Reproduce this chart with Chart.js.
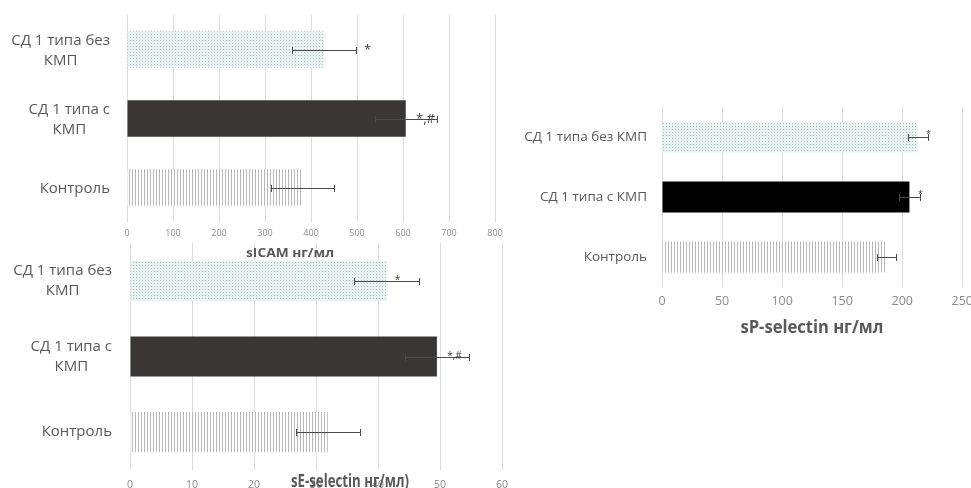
<!DOCTYPE html>
<html><head><meta charset="utf-8">
<script src="https://cdn.jsdelivr.net/npm/chart.js@4.4.1/dist/chart.umd.min.js"></script>
<style>
html,body{margin:0;padding:0;background:#fff;}
body{width:971px;height:488px;position:relative;overflow:hidden;}
canvas{position:absolute;}
</style>
</head><body>
<canvas id="c2" width="520" height="248" style="left:0;top:240px"></canvas>
<canvas id="c1" width="510" height="262" style="left:0;top:0"></canvas>
<canvas id="c3" width="480" height="250" style="left:500px;top:95px"></canvas>
<script>
// ---------- DATA ----------
const categoriesWrapped = [['СД 1 типа без','КМП'], ['СД 1 типа с','КМП'], 'Контроль'];
const categoriesFlat = ['СД 1 типа без КМП', 'СД 1 типа с КМП', 'Контроль'];

const sicamValues = [428, 606, 382];
const sicamErrors = [70, 67, 68];
const sicamMarks = ['*', '*,#', ''];
const sicamTicks = {min: 0, max: 800, step: 100};
const sicamTitle = 'sICAM нг/мл';

const seValues = [41.4, 49.5, 31.9];
const seErrors = [5.2, 5.1, 5.2];
const seMarks = ['*', '*,#', ''];
const seTicks = {min: 0, max: 60, step: 10};
const seTitle = 'sE-selectin нг/мл)';

const spValues = [213, 206, 187];
const spErrors = [8.5, 8.5, 8];
const spMarks = ['*', '*', ''];
const spTicks = {min: 0, max: 250, step: 50};
const spTitle = 'sP-selectin нг/мл';

// ---------- PATTERNS ----------
function dotPattern() {
  const c = document.createElement('canvas'); c.width = 3; c.height = 3;
  const g = c.getContext('2d');
  g.fillStyle = '#e9f3f3'; g.fillRect(0, 0, 3, 3);
  g.fillStyle = '#a4c0c0'; g.fillRect(1, 1, 1, 1);
  return g.createPattern(c, 'repeat');
}
function stripePattern() {
  const c = document.createElement('canvas'); c.width = 3; c.height = 3;
  const g = c.getContext('2d');
  g.fillStyle = '#ffffff'; g.fillRect(0, 0, 3, 3);
  g.fillStyle = '#b8b8b8'; g.fillRect(0, 0, 1, 3);
  return g.createPattern(c, 'repeat');
}

const LABEL_COLOR = '#595959';
const TICK_COLOR = '#8a8a8a';
const GRID_COLOR = '#dcdcdc';

// ---------- PLUGIN: labels, error bars, marks, title ----------
const extrasPlugin = {
  id: 'extras',
  afterDatasetsDraw(chart, args, o) {
    const ctx = chart.ctx;
    const xs = chart.scales.x;
    const meta = chart.getDatasetMeta(0);
    const ds = chart.data.datasets[0];
    ctx.save();
    // category labels
    ctx.fillStyle = LABEL_COLOR;
    ctx.font = o.labelFont;
    ctx.textBaseline = 'middle';
    const rightX = chart.chartArea.left - o.labelGap;
    chart.data.labels.forEach((lab, i) => {
      const lines = Array.isArray(lab) ? lab : [lab];
      const w = Math.max(...lines.map(l => ctx.measureText(l).width));
      const cx = rightX - w / 2;
      const y0 = meta.data[i].y - (lines.length - 1) * o.lineHeight / 2 + o.labelDy;
      ctx.textAlign = 'center';
      lines.forEach((l, k) => ctx.fillText(l, cx, y0 + k * o.lineHeight));
    });
    // error bars
    ctx.strokeStyle = '#4a4a4a';
    ctx.lineWidth = 1;
    meta.data.forEach((bar, i) => {
      const v = ds.data[i], e = ds.errors[i];
      const x0 = Math.round(xs.getPixelForValue(v - e)) + 0.5;
      const x1 = Math.round(xs.getPixelForValue(v + e)) + 0.5;
      const y = Math.round(bar.y) + 0.5;
      ctx.beginPath();
      ctx.moveTo(x0, y); ctx.lineTo(x1, y);
      ctx.moveTo(x0, y - o.cap); ctx.lineTo(x0, y + o.cap);
      ctx.moveTo(x1, y - o.cap); ctx.lineTo(x1, y + o.cap);
      ctx.stroke();
      const m = ds.marks[i];
      if (m) {
        ctx.fillStyle = '#404040';
        ctx.font = o.markFont;
        ctx.textAlign = 'center';
        ctx.fillText(m, x1 + o.markDx[i], y + o.markDy);
      }
    });
    // axis title
    ctx.font = o.titleFont;
    ctx.fillStyle = LABEL_COLOR;
    ctx.textAlign = 'center';
    ctx.textBaseline = 'middle';
    const tw = ctx.measureText(o.title).width;
    const sx = o.titleWidth / tw;
    ctx.translate(o.titleX, o.titleY);
    ctx.scale(sx, 1);
    ctx.fillText(o.title, 0, 0);
    ctx.restore();
  }
};

function makeChart(id, cfg) {
  const ctx = document.getElementById(id).getContext('2d');
  return new Chart(ctx, {
    type: 'bar',
    data: {
      labels: cfg.labels,
      datasets: [{
        data: cfg.values,
        errors: cfg.errors,
        marks: cfg.marks,
        backgroundColor: [dotPattern(), cfg.dark, stripePattern()],
        borderWidth: 0,
        barPercentage: cfg.barPct,
        categoryPercentage: 1
      }]
    },
    options: {
      indexAxis: 'y',
      responsive: false,
      animation: false,
      layout: {padding: cfg.padding},
      scales: {
        y: {
          ticks: {display: false},
          grid: {display: false},
          border: {display: false},
          afterFit: s => { s.width = cfg.yWidth; }
        },
        x: {
          min: cfg.ticks.min, max: cfg.ticks.max,
          ticks: {stepSize: cfg.ticks.step, color: TICK_COLOR,
                  font: {family: 'Open Sans', size: cfg.tickSize}, padding: cfg.tickPad, maxRotation: 0},
          grid: {color: GRID_COLOR, drawTicks: false},
          border: {display: false},
          afterFit: s => { s.height = cfg.xHeight; }
        }
      },
      plugins: {
        legend: {display: false},
        tooltip: {enabled: false},
        extras: cfg.extras
      }
    },
    plugins: [extrasPlugin]
  });
}

// Chart 1: sICAM
makeChart('c1', {
  labels: categoriesWrapped, values: sicamValues, errors: sicamErrors, marks: sicamMarks,
  ticks: sicamTicks, dark: '#3b3636', barPct: 0.53,
  padding: {left: 0, top: 15, right: 15, bottom: 0},
  yWidth: 127, xHeight: 40, tickSize: 9, tickPad: 6,
  extras: {
    labelFont: '15px "Open Sans"', labelGap: 17, lineHeight: 20, labelDy: 1,
    cap: 3.5, markFont: '13px "Open Sans"', markDx: [11, -12, 0], markDy: 0,
    title: sicamTitle, titleFont: 'bold 12.5px "Open Sans"', titleWidth: 88, titleX: 290, titleY: 253
  }
});

// Chart 2: sE-selectin
makeChart('c2', {
  labels: categoriesWrapped, values: seValues, errors: seErrors, marks: seMarks,
  ticks: seTicks, dark: '#3b3636', barPct: 0.53,
  padding: {left: 0, top: 3, right: 18, bottom: 0},
  yWidth: 130, xHeight: 18, tickSize: 10.5, tickPad: 9,
  extras: {
    labelFont: '15px "Open Sans"', labelGap: 18, lineHeight: 20, labelDy: 0,
    cap: 3.5, markFont: '10px "Open Sans"', markDx: [-22, -15, 0], markDy: -1,
    title: seTitle, titleFont: 'bold 17px "Open Sans"', titleWidth: 118, titleX: 350, titleY: 242
  }
});

// Chart 3: sP-selectin
makeChart('c3', {
  labels: categoriesFlat, values: spValues, errors: spErrors, marks: spMarks,
  ticks: spTicks, dark: '#000000', barPct: 0.52,
  padding: {left: 0, top: 12, right: 9, bottom: 0},
  yWidth: 162, xHeight: 58, tickSize: 12.5, tickPad: 7,
  extras: {
    labelFont: '13.5px "Open Sans"', labelGap: 15, lineHeight: 18, labelDy: 0,
    cap: 3.5, markFont: '9px "Open Sans"', markDx: [0, 0, 0], markDy: -3,
    title: spTitle, titleFont: 'bold 17.5px "Open Sans"', titleWidth: 143, titleX: 312, titleY: 233
  }
});
</script>
</body></html>
